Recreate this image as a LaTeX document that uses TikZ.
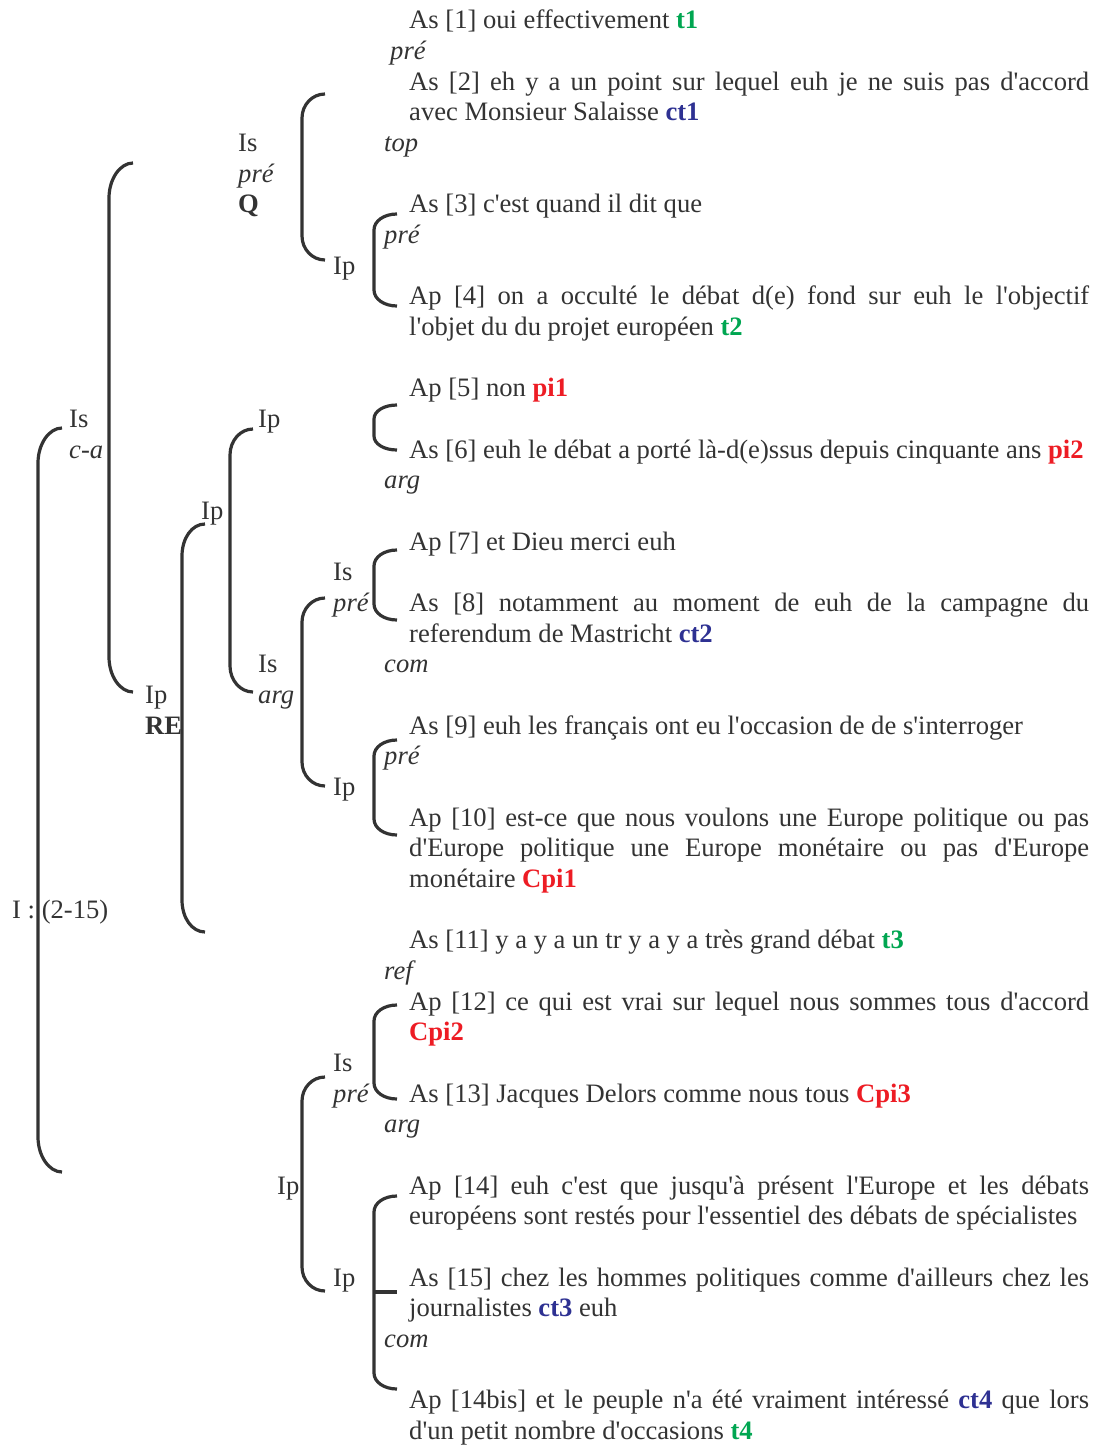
\documentclass[tikz,border=0pt]{standalone}
\usepackage{fontspec}
\setmainfont{Liberation Serif}[Ligatures=TeXOff]
\hyphenpenalty=10000
\exhyphenpenalty=10000

\begin{document}
\begin{tikzpicture}[x=1pt, y=-1pt]
    \def\lh{30.67}
    \def\ty{28.8}
    \def\ux{409}
    \def\txtw{680pt}

    \definecolor{dg-ink}{HTML}{333333}
    \definecolor{dg-green}{HTML}{00A651}
    \definecolor{dg-blue}{HTML}{2E3192}
    \definecolor{dg-red}{HTML}{ED1C24}

    \tikzset{
      txt/.style={
        inner sep=0pt,
        anchor=base west,
        text=dg-ink,
        font=\fontsize{26.6}{30.67}\selectfont
      },
      utt/.style={
        txt,
        text width=\txtw,
        align=justify
      },
      cat/.style={
        txt
      },
      fn/.style={
        txt,
        font=\fontsize{26.6}{30.67}\selectfont\itshape
      },
      brk/.style={
        draw=dg-ink,
        line width=3.2pt
      }
    }

    \useasboundingbox (0,0) rectangle (1102,1445);

    % utterances
    \node[utt] (u1) at (\ux, \ty) {As [1] oui effectivement \textcolor{dg-green}{\textbf{t1}}};
    \node[utt] (u2) at (\ux, \ty+2*\lh) {As [2] eh y a un point sur lequel euh je ne suis pas d'accord\linebreak avec Monsieur Salaisse \textcolor{dg-blue}{\textbf{ct1}}};
    \node[utt] (u3) at (\ux, \ty+6*\lh) {As [3] c'est quand il dit que};
    \node[utt] (u4) at (\ux, \ty+9*\lh) {Ap [4] on a occulté le débat d(e) fond sur euh le l'objectif\linebreak l'objet du du projet européen \textcolor{dg-green}{\textbf{t2}}};
    \node[utt] (u5) at (\ux, \ty+12*\lh) {Ap [5] non \textcolor{dg-red}{\textbf{pi1}}};
    \node[utt] (u6) at (\ux, \ty+14*\lh) {As [6] euh le débat a porté là-d(e)ssus depuis cinquante ans \textcolor{dg-red}{\textbf{pi2}}};
    \node[utt] (u7) at (\ux, \ty+17*\lh) {Ap [7] et Dieu merci euh};
    \node[utt] (u8) at (\ux, \ty+19*\lh) {As [8] notamment au moment de euh de la campagne du\linebreak referendum de Mastricht \textcolor{dg-blue}{\textbf{ct2}}};
    \node[utt] (u9) at (\ux, \ty+23*\lh) {As [9] euh les français ont eu l'occasion de de s'interroger};
    \node[utt] (u10) at (\ux, \ty+26*\lh) {Ap [10] est-ce que nous voulons une Europe politique ou pas\linebreak d'Europe politique une Europe monétaire ou pas d'Europe\linebreak monétaire \textcolor{dg-red}{\textbf{Cpi1}}};
    \node[utt] (u11) at (\ux, \ty+30*\lh) {As [11] y a y a un tr y a y a très grand débat \textcolor{dg-green}{\textbf{t3}}};
    \node[utt] (u12) at (\ux, \ty+32*\lh) {Ap [12] ce qui est vrai sur lequel nous sommes tous d'accord\linebreak \textcolor{dg-red}{\textbf{Cpi2}}};
    \node[utt] (u13) at (\ux, \ty+35*\lh) {As [13] Jacques Delors comme nous tous \textcolor{dg-red}{\textbf{Cpi3}}};
    \node[utt] (u14) at (\ux, \ty+38*\lh) {Ap [14] euh c'est que jusqu'à présent l'Europe et les débats\linebreak européens sont restés pour l'essentiel des débats de spécialistes};
    \node[utt] (u15) at (\ux, \ty+41*\lh) {As [15] chez les hommes politiques comme d'ailleurs chez les\linebreak journalistes \textcolor{dg-blue}{\textbf{ct3}} euh};
    \node[utt] (u16) at (\ux, \ty+45*\lh) {Ap [14bis] et le peuple n'a été vraiment intéressé \textcolor{dg-blue}{\textbf{ct4}} que lors\linebreak d'un petit nombre d'occasions \textcolor{dg-green}{\textbf{t4}}};

    % functions
    \node[fn] (f1) at (390, \ty+1*\lh) {pré};
    \node[fn] (f2) at (384, \ty+4*\lh) {top};
    \node[fn] (f3) at (238, \ty+5*\lh) {pré};
    \node[fn] (f4) at (384, \ty+7*\lh) {pré};
    \node[fn] (f5) at (69, \ty+14*\lh) {c-a};
    \node[fn] (f6) at (384, \ty+15*\lh) {arg};
    \node[fn] (f7) at (333, \ty+19*\lh) {pré};
    \node[fn] (f8) at (384, \ty+21*\lh) {com};
    \node[fn] (f9) at (258, \ty+22*\lh) {arg};
    \node[fn] (f10) at (384, \ty+24*\lh) {pré};
    \node[fn] (f11) at (384, \ty+31*\lh) {ref};
    \node[fn] (f12) at (333, \ty+35*\lh) {pré};
    \node[fn] (f13) at (384, \ty+36*\lh) {arg};
    \node[fn] (f14) at (384, \ty+43*\lh) {com};

    % categories
    \node[cat] (c1) at (238, \ty+4*\lh) {Is};
    \node[cat] (c2) at (238, \ty+6*\lh) {\textbf{Q}};
    \node[cat] (c3) at (333, \ty+8*\lh) {Ip};
    \node[cat] (c4) at (69, \ty+13*\lh) {Is};
    \node[cat] (c5) at (258, \ty+13*\lh) {Ip};
    \node[cat] (c6) at (201, \ty+16*\lh) {Ip};
    \node[cat] (c7) at (333, \ty+18*\lh) {Is};
    \node[cat] (c8) at (258, \ty+21*\lh) {Is};
    \node[cat] (c9) at (145, \ty+22*\lh) {Ip};
    \node[cat] (c10) at (145, \ty+23*\lh) {\textbf{RE}};
    \node[cat] (c11) at (333, \ty+25*\lh) {Ip};
    \node[cat] (c12) at (12, \ty+29*\lh) {I : (2-15)};
    \node[cat] (c13) at (333, \ty+34*\lh) {Is};
    \node[cat] (c14) at (277, \ty+38*\lh) {Ip};
    \node[cat] (c15) at (333, \ty+41*\lh) {Ip};

    % brackets
    \draw[brk] (62,428) .. controls (49,428) and (38,444) .. (38,463) -- (38,1137) .. controls (38,1156) and (49,1172) .. (62,1172);
    \draw[brk] (133,163) .. controls (120,163) and (109,179) .. (109,198) -- (109,657) .. controls (109,676) and (120,692) .. (133,692);
    \draw[brk] (205,524) .. controls (192,524) and (182,538) .. (182,556) -- (182,900) .. controls (182,918) and (192,932) .. (205,932);
    \draw[brk] (253,429) .. controls (240,429) and (230,441) .. (230,455) -- (230,666) .. controls (230,680) and (240,692) .. (253,692);
    \draw[brk] (325,94) .. controls (312,94) and (302,105) .. (302,118) -- (302,236) .. controls (302,249) and (312,260) .. (325,260);
    \draw[brk] (397,214) .. controls (384,214) and (374,221) .. (374,230) -- (374,290) .. controls (374,299) and (384,306) .. (397,306);
    \draw[brk] (397,405) .. controls (384,405) and (374,411) .. (374,419) -- (374,436) .. controls (374,444) and (384,450) .. (397,450);
    \draw[brk] (325,598) .. controls (312,598) and (302,609) .. (302,622) -- (302,762) .. controls (302,775) and (312,786) .. (325,786);
    \draw[brk] (397,550) .. controls (384,550) and (374,557) .. (374,566) -- (374,604) .. controls (374,613) and (384,620) .. (397,620);
    \draw[brk] (397,740) .. controls (384,740) and (374,747) .. (374,756) -- (374,819) .. controls (374,828) and (384,835) .. (397,835);
    \draw[brk] (397,1005) .. controls (384,1005) and (374,1012) .. (374,1021) -- (374,1083) .. controls (374,1092) and (384,1099) .. (397,1099);
    \draw[brk] (325,1077) .. controls (312,1077) and (302,1088) .. (302,1101) -- (302,1267) .. controls (302,1280) and (312,1291) .. (325,1291);
    \draw[brk] (397,1196) .. controls (384,1196) and (374,1203) .. (374,1212) -- (374,1373) .. controls (374,1382) and (384,1389) .. (397,1389);
    \draw[brk] (374,1292) -- (397,1292);
  \end{tikzpicture}
\end{document}
